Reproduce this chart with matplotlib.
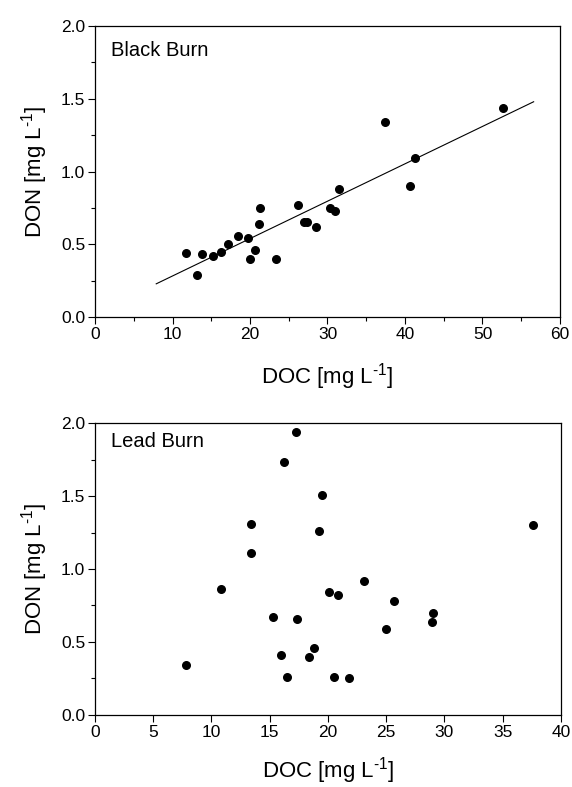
import matplotlib
matplotlib.use('Agg')
import matplotlib.pyplot as plt
import numpy as np
from matplotlib.ticker import MultipleLocator

plt.rcParams.update({
    'font.family': ['Liberation Sans', 'DejaVu Sans'],
    'font.size': 11,
    'mathtext.fontset': 'custom',
    'mathtext.rm': 'Liberation Sans',
    'mathtext.it': 'Liberation Sans',
})

# Black Burn
bb_doc = np.array([11.8, 13.1, 13.8, 15.2, 16.2, 17.1, 18.5, 19.8, 20.0, 20.7, 21.2, 21.3,
                   23.3, 26.2, 27.0, 27.3, 28.5, 30.3, 31.0, 31.5, 37.4, 40.6, 41.3, 52.6])
bb_don = np.array([0.44, 0.29, 0.43, 0.42, 0.45, 0.50, 0.56, 0.54, 0.40, 0.46, 0.64, 0.75,
                   0.40, 0.77, 0.65, 0.65, 0.62, 0.75, 0.73, 0.88, 1.34, 0.90, 1.09, 1.44])
fit_slope = 0.0257
fit_intercept = 0.025
fit_xmin, fit_xmax = 7.9, 56.6

# Lead Burn
lb_doc = np.array([7.8, 10.8, 13.4, 13.4, 15.3, 16.0, 16.2, 16.5, 17.25, 17.3, 18.4, 18.8,
                   19.2, 19.5, 20.1, 20.5, 20.9, 21.8, 23.1, 25.0, 25.7, 28.9, 29.0, 37.6])
lb_don = np.array([0.34, 0.86, 1.11, 1.31, 0.67, 0.41, 1.73, 0.26, 1.94, 0.66, 0.40, 0.46,
                   1.26, 1.51, 0.84, 0.26, 0.82, 0.25, 0.92, 0.59, 0.78, 0.64, 0.70, 1.30])

fig = plt.figure(figsize=(5.72, 7.87), dpi=100)
ax1 = fig.add_axes([0.1661, 0.5972, 0.8129, 0.3697])
ax2 = fig.add_axes([0.1661, 0.0915, 0.8146, 0.3710])

ax1.scatter(bb_doc, bb_don, s=30, color='black', zorder=3)
xs = np.linspace(fit_xmin, fit_xmax, 2)
ax1.plot(xs, fit_intercept + fit_slope * xs, color='black', linewidth=0.8)
ax1.set_xlim(0, 60)
ax1.set_ylim(0, 2)
ax1.xaxis.set_major_locator(MultipleLocator(10))
ax1.xaxis.set_minor_locator(MultipleLocator(5))
ax1.text(0.034, 0.95, 'Black Burn', transform=ax1.transAxes, fontsize=14.5, va='top')

ax2.scatter(lb_doc, lb_don, s=30, color='black', zorder=3)
ax2.set_xlim(0, 40)
ax2.set_ylim(0, 2)
ax2.xaxis.set_major_locator(MultipleLocator(5))
ax2.text(0.034, 0.97, 'Lead Burn', transform=ax2.transAxes, fontsize=14.5, va='top')

label_unit = r'[mg L$^{\text{-}1}$]'
for ax in (ax1, ax2):
    ax.yaxis.set_major_locator(MultipleLocator(0.5))
    ax.yaxis.set_minor_locator(MultipleLocator(0.25))
    ax.yaxis.set_major_formatter(plt.FormatStrFormatter('%.1f'))
    ax.tick_params(which='major', direction='out', length=5, width=0.8, labelsize=12.5, pad=2)
    ax.tick_params(which='minor', direction='out', length=3, width=0.8)
    ax.tick_params(top=False, right=False)
    ax.set_ylabel('DON ' + label_unit, fontsize=16, labelpad=8)
    for s in ax.spines.values():
        s.set_linewidth(0.9)

ax1.set_xlabel('DOC ' + label_unit, fontsize=16, labelpad=14)
ax2.set_xlabel('DOC ' + label_unit, fontsize=16, labelpad=11)

fig.savefig('out.png', dpi=100)
